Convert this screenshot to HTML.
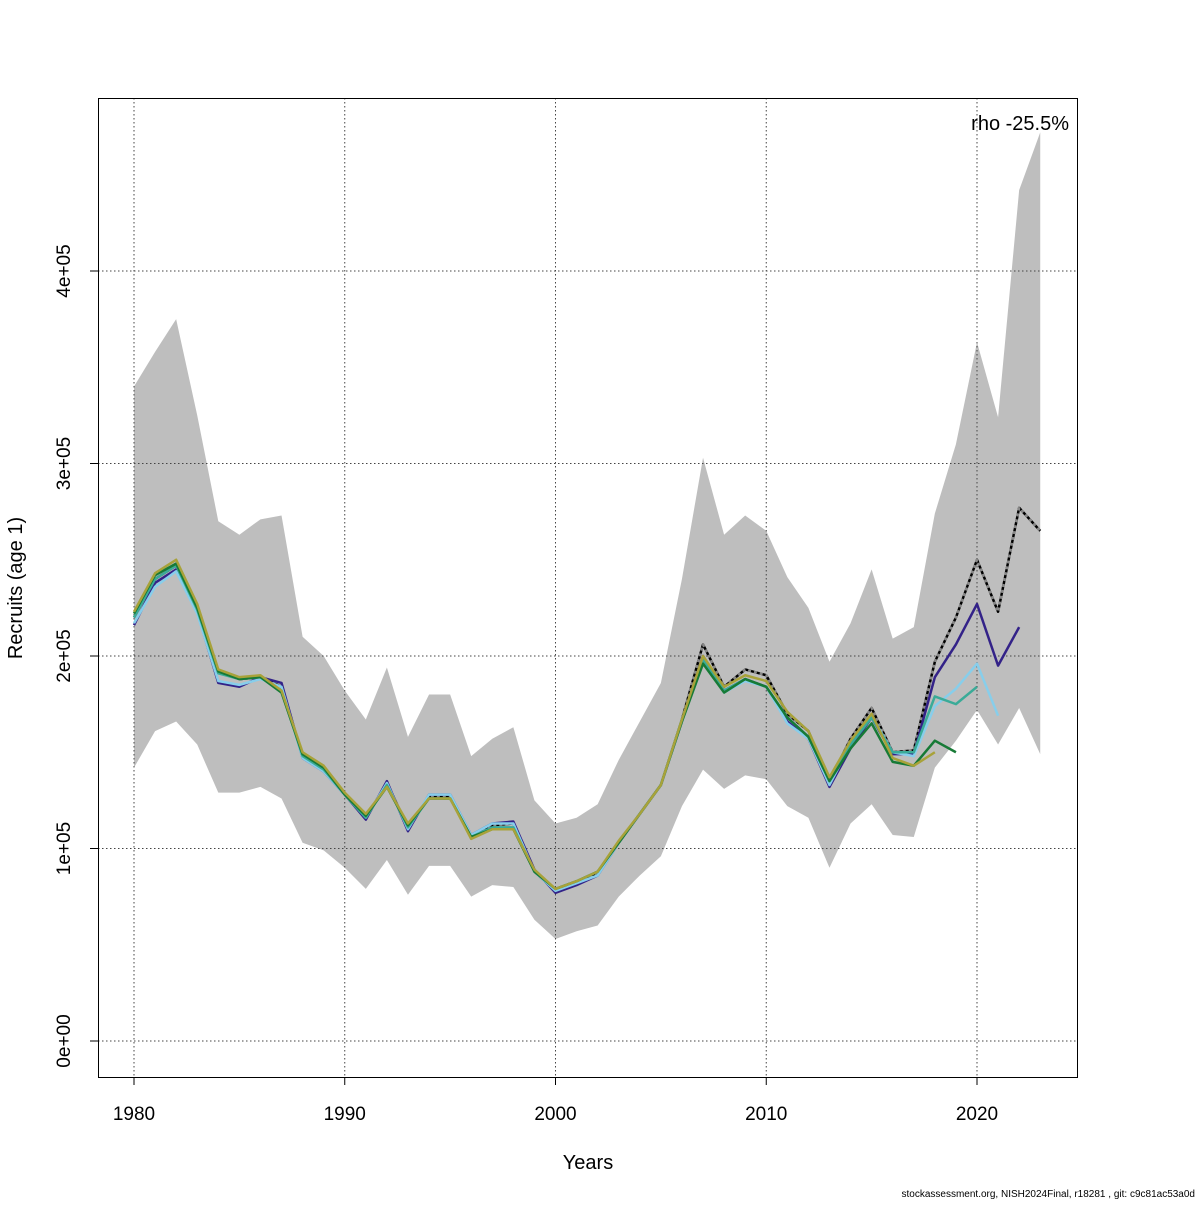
<!DOCTYPE html>
<html><head><meta charset="utf-8"><style>
body{margin:0;background:#fff}
svg text{font-family:"Liberation Sans",sans-serif}
</style></head><body>
<svg id="c" width="1200" height="1200" viewBox="0 0 1200 1200">
<rect x="0" y="0" width="1200" height="1200" fill="#fff"/>
<g id="band"></g>
<g id="grid"></g>
<g id="lines"></g>
<rect x="98.5" y="98.5" width="979" height="979" fill="none" stroke="#000"/>
<g id="axes"></g>
<text x="1069" y="130" font-size="20" text-anchor="end">rho -25.5%</text>
<text x="588" y="1169" font-size="20" text-anchor="middle">Years</text>
<text transform="translate(22,588) rotate(-90)" font-size="20" text-anchor="middle">Recruits (age 1)</text>
<text x="1195" y="1197" font-size="10" text-anchor="end">stockassessment.org, NISH2024Final, r18281 , git: c9c81ac53a0d</text>
</svg>
<script>
const years=[];for(let y=1980;y<=2023;y++)years.push(y);
const base=[2.20,2.40,2.47,2.25,1.92,1.88,1.89,1.84,1.48,1.41,1.28,1.16,1.34,1.11,1.27,1.27,1.06,1.12,1.13,0.88,0.78,0.82,0.87,1.03,1.18,1.33,1.67,2.06,1.84,1.93,1.90,1.70,1.61,1.35,1.57,1.73,1.50,1.51,1.97,2.20,2.50,2.23,2.77,2.65];
const upper=[3.40,3.58,3.75,3.25,2.70,2.63,2.71,2.73,2.10,2.00,1.82,1.67,1.94,1.58,1.80,1.80,1.48,1.57,1.63,1.25,1.13,1.16,1.23,1.46,1.66,1.86,2.40,3.03,2.63,2.73,2.65,2.41,2.25,1.97,2.17,2.45,2.09,2.15,2.74,3.10,3.63,3.24,4.42,4.72];
const lower=[1.42,1.61,1.66,1.54,1.29,1.29,1.32,1.26,1.03,0.99,0.90,0.79,0.94,0.76,0.91,0.91,0.75,0.81,0.80,0.63,0.53,0.57,0.60,0.75,0.86,0.96,1.22,1.41,1.31,1.38,1.36,1.22,1.16,0.90,1.13,1.23,1.07,1.06,1.42,1.56,1.72,1.54,1.73,1.49];
const peelPurple=[2.16,2.38,2.45,2.23,1.86,1.84,1.89,1.86,1.47,1.40,1.28,1.15,1.35,1.09,1.28,1.28,1.07,1.13,1.14,0.89,0.77,0.81,0.86,1.03,1.18,1.33,1.66,2.00,1.82,1.88,1.84,1.66,1.57,1.32,1.52,1.68,1.49,1.49,1.89,2.06,2.27,1.95,2.15];
const peelBlue=[2.17,2.36,2.44,2.22,1.87,1.85,1.88,1.84,1.47,1.40,1.28,1.16,1.34,1.10,1.28,1.28,1.07,1.13,1.13,0.88,0.78,0.82,0.86,1.03,1.18,1.33,1.66,1.98,1.81,1.87,1.84,1.65,1.57,1.33,1.54,1.69,1.50,1.48,1.74,1.83,1.96,1.69];
const peelTeal=[2.20,2.40,2.47,2.24,1.91,1.88,1.89,1.82,1.48,1.41,1.28,1.16,1.33,1.11,1.26,1.26,1.06,1.11,1.11,0.88,0.79,0.83,0.88,1.03,1.18,1.33,1.67,1.98,1.82,1.88,1.84,1.68,1.58,1.35,1.54,1.68,1.50,1.50,1.79,1.75,1.84];
const peelGreen=[2.22,2.42,2.48,2.25,1.92,1.88,1.89,1.81,1.49,1.42,1.28,1.17,1.32,1.12,1.26,1.26,1.06,1.10,1.10,0.88,0.79,0.83,0.88,1.03,1.18,1.33,1.66,1.96,1.81,1.88,1.84,1.68,1.58,1.35,1.52,1.65,1.45,1.43,1.56,1.50];
const peelOlive=[2.23,2.43,2.50,2.27,1.93,1.89,1.90,1.82,1.50,1.43,1.29,1.18,1.32,1.13,1.26,1.26,1.05,1.10,1.10,0.89,0.79,0.83,0.88,1.04,1.18,1.33,1.67,2.00,1.84,1.90,1.87,1.71,1.61,1.37,1.56,1.70,1.47,1.43,1.50];
const xTicks=[1980,1990,2000,2010,2020];
const yTicks=[0,1,2,3,4];
const yLabels=["0e+00","1e+05","2e+05","3e+05","4e+05"];
const X=y=>134+(y-1980)*21.075;
const Y=v=>1041-v*192.5;
const NS="http://www.w3.org/2000/svg";
function mk(t,a,p){const e=document.createElementNS(NS,t);for(const k in a)e.setAttribute(k,a[k]);p.appendChild(e);return e;}
const band=document.getElementById('band');
let d="M"+years.map((y,i)=>X(y)+","+Y(upper[i])).join("L")+"L"+years.slice().reverse().map((y,j)=>X(y)+","+Y(lower[years.length-1-j])).join("L")+"Z";
const bp=mk('path',{d:d,fill:'#bebebe'},band);


const grid=document.getElementById('grid'),axes=document.getElementById('axes');
xTicks.forEach(t=>{
 const l=mk('line',{x1:X(t),x2:X(t),y1:98,y2:1077,stroke:'#444','stroke-dasharray':'1.5,2.5','stroke-width':1},grid);
 
 
 mk('line',{x1:X(t),x2:X(t),y1:1077,y2:1085,stroke:'#000'},axes);
 const tx=mk('text',{x:X(t),y:1120,'font-size':19,'text-anchor':'middle'},axes);tx.textContent=t;
 
 
});
yTicks.forEach((t,i)=>{
 const l=mk('line',{x1:98,x2:1077,y1:Y(t),y2:Y(t),stroke:'#444','stroke-dasharray':'1.5,2.5','stroke-width':1},grid);
 
 
 mk('line',{x1:90,x2:98,y1:Y(t),y2:Y(t),stroke:'#000'},axes);
 const tx=mk('text',{transform:`translate(70,${Y(t)}) rotate(-90)`,'font-size':19,'text-anchor':'middle'},axes);tx.textContent=yLabels[i];
 
 
});
const lines=document.getElementById('lines');
function series(arr,col,name,dash){
 const p=mk('polyline',{points:arr.map((v,i)=>X(years[i])+","+Y(v)).join(" "),fill:'none',stroke:col,'stroke-width':2.5,'stroke-linejoin':'round'},lines);
 if(dash)p.setAttribute('stroke-dasharray',dash);
 
 
}
series(base,'#000','base-run-line');
series(base,'#888','base-run-dash','3,3');
series(peelPurple,'#332288','peel-2022-line');
series(peelBlue,'#87ceeb','peel-2021-line');
series(peelTeal,'#3aab98','peel-2020-line');
series(peelGreen,'#177a36','peel-2019-line');
series(peelOlive,'#a8a23a','peel-2018-line');
</script>
</body></html>
